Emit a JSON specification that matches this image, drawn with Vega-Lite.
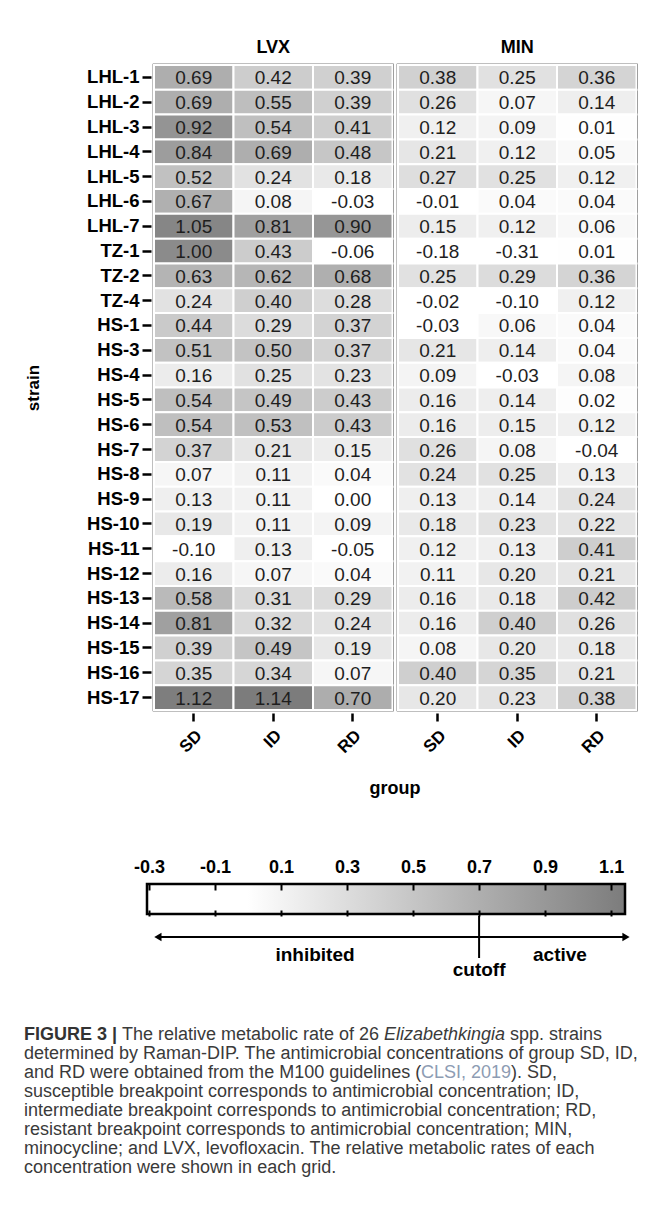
{
  "$schema": "https://vega.github.io/schema/vega-lite/v6.json",
  "padding": {"left": 24, "top": 39, "right": 5, "bottom": 5},
  "background": "white",
  "datasets": {
    "cells": [
      {"strain":"LHL-1","drug":"LVX","group":"SD","value":0.69},{"strain":"LHL-1","drug":"LVX","group":"ID","value":0.42},{"strain":"LHL-1","drug":"LVX","group":"RD","value":0.39},
      {"strain":"LHL-1","drug":"MIN","group":"SD","value":0.38},{"strain":"LHL-1","drug":"MIN","group":"ID","value":0.25},{"strain":"LHL-1","drug":"MIN","group":"RD","value":0.36},
      {"strain":"LHL-2","drug":"LVX","group":"SD","value":0.69},{"strain":"LHL-2","drug":"LVX","group":"ID","value":0.55},{"strain":"LHL-2","drug":"LVX","group":"RD","value":0.39},
      {"strain":"LHL-2","drug":"MIN","group":"SD","value":0.26},{"strain":"LHL-2","drug":"MIN","group":"ID","value":0.07},{"strain":"LHL-2","drug":"MIN","group":"RD","value":0.14},
      {"strain":"LHL-3","drug":"LVX","group":"SD","value":0.92},{"strain":"LHL-3","drug":"LVX","group":"ID","value":0.54},{"strain":"LHL-3","drug":"LVX","group":"RD","value":0.41},
      {"strain":"LHL-3","drug":"MIN","group":"SD","value":0.12},{"strain":"LHL-3","drug":"MIN","group":"ID","value":0.09},{"strain":"LHL-3","drug":"MIN","group":"RD","value":0.01},
      {"strain":"LHL-4","drug":"LVX","group":"SD","value":0.84},{"strain":"LHL-4","drug":"LVX","group":"ID","value":0.69},{"strain":"LHL-4","drug":"LVX","group":"RD","value":0.48},
      {"strain":"LHL-4","drug":"MIN","group":"SD","value":0.21},{"strain":"LHL-4","drug":"MIN","group":"ID","value":0.12},{"strain":"LHL-4","drug":"MIN","group":"RD","value":0.05},
      {"strain":"LHL-5","drug":"LVX","group":"SD","value":0.52},{"strain":"LHL-5","drug":"LVX","group":"ID","value":0.24},{"strain":"LHL-5","drug":"LVX","group":"RD","value":0.18},
      {"strain":"LHL-5","drug":"MIN","group":"SD","value":0.27},{"strain":"LHL-5","drug":"MIN","group":"ID","value":0.25},{"strain":"LHL-5","drug":"MIN","group":"RD","value":0.12},
      {"strain":"LHL-6","drug":"LVX","group":"SD","value":0.67},{"strain":"LHL-6","drug":"LVX","group":"ID","value":0.08},{"strain":"LHL-6","drug":"LVX","group":"RD","value":-0.03},
      {"strain":"LHL-6","drug":"MIN","group":"SD","value":-0.01},{"strain":"LHL-6","drug":"MIN","group":"ID","value":0.04},{"strain":"LHL-6","drug":"MIN","group":"RD","value":0.04},
      {"strain":"LHL-7","drug":"LVX","group":"SD","value":1.05},{"strain":"LHL-7","drug":"LVX","group":"ID","value":0.81},{"strain":"LHL-7","drug":"LVX","group":"RD","value":0.90},
      {"strain":"LHL-7","drug":"MIN","group":"SD","value":0.15},{"strain":"LHL-7","drug":"MIN","group":"ID","value":0.12},{"strain":"LHL-7","drug":"MIN","group":"RD","value":0.06},
      {"strain":"TZ-1","drug":"LVX","group":"SD","value":1.00},{"strain":"TZ-1","drug":"LVX","group":"ID","value":0.43},{"strain":"TZ-1","drug":"LVX","group":"RD","value":-0.06},
      {"strain":"TZ-1","drug":"MIN","group":"SD","value":-0.18},{"strain":"TZ-1","drug":"MIN","group":"ID","value":-0.31},{"strain":"TZ-1","drug":"MIN","group":"RD","value":0.01},
      {"strain":"TZ-2","drug":"LVX","group":"SD","value":0.63},{"strain":"TZ-2","drug":"LVX","group":"ID","value":0.62},{"strain":"TZ-2","drug":"LVX","group":"RD","value":0.68},
      {"strain":"TZ-2","drug":"MIN","group":"SD","value":0.25},{"strain":"TZ-2","drug":"MIN","group":"ID","value":0.29},{"strain":"TZ-2","drug":"MIN","group":"RD","value":0.36},
      {"strain":"TZ-4","drug":"LVX","group":"SD","value":0.24},{"strain":"TZ-4","drug":"LVX","group":"ID","value":0.40},{"strain":"TZ-4","drug":"LVX","group":"RD","value":0.28},
      {"strain":"TZ-4","drug":"MIN","group":"SD","value":-0.02},{"strain":"TZ-4","drug":"MIN","group":"ID","value":-0.10},{"strain":"TZ-4","drug":"MIN","group":"RD","value":0.12},
      {"strain":"HS-1","drug":"LVX","group":"SD","value":0.44},{"strain":"HS-1","drug":"LVX","group":"ID","value":0.29},{"strain":"HS-1","drug":"LVX","group":"RD","value":0.37},
      {"strain":"HS-1","drug":"MIN","group":"SD","value":-0.03},{"strain":"HS-1","drug":"MIN","group":"ID","value":0.06},{"strain":"HS-1","drug":"MIN","group":"RD","value":0.04},
      {"strain":"HS-3","drug":"LVX","group":"SD","value":0.51},{"strain":"HS-3","drug":"LVX","group":"ID","value":0.50},{"strain":"HS-3","drug":"LVX","group":"RD","value":0.37},
      {"strain":"HS-3","drug":"MIN","group":"SD","value":0.21},{"strain":"HS-3","drug":"MIN","group":"ID","value":0.14},{"strain":"HS-3","drug":"MIN","group":"RD","value":0.04},
      {"strain":"HS-4","drug":"LVX","group":"SD","value":0.16},{"strain":"HS-4","drug":"LVX","group":"ID","value":0.25},{"strain":"HS-4","drug":"LVX","group":"RD","value":0.23},
      {"strain":"HS-4","drug":"MIN","group":"SD","value":0.09},{"strain":"HS-4","drug":"MIN","group":"ID","value":-0.03},{"strain":"HS-4","drug":"MIN","group":"RD","value":0.08},
      {"strain":"HS-5","drug":"LVX","group":"SD","value":0.54},{"strain":"HS-5","drug":"LVX","group":"ID","value":0.49},{"strain":"HS-5","drug":"LVX","group":"RD","value":0.43},
      {"strain":"HS-5","drug":"MIN","group":"SD","value":0.16},{"strain":"HS-5","drug":"MIN","group":"ID","value":0.14},{"strain":"HS-5","drug":"MIN","group":"RD","value":0.02},
      {"strain":"HS-6","drug":"LVX","group":"SD","value":0.54},{"strain":"HS-6","drug":"LVX","group":"ID","value":0.53},{"strain":"HS-6","drug":"LVX","group":"RD","value":0.43},
      {"strain":"HS-6","drug":"MIN","group":"SD","value":0.16},{"strain":"HS-6","drug":"MIN","group":"ID","value":0.15},{"strain":"HS-6","drug":"MIN","group":"RD","value":0.12},
      {"strain":"HS-7","drug":"LVX","group":"SD","value":0.37},{"strain":"HS-7","drug":"LVX","group":"ID","value":0.21},{"strain":"HS-7","drug":"LVX","group":"RD","value":0.15},
      {"strain":"HS-7","drug":"MIN","group":"SD","value":0.26},{"strain":"HS-7","drug":"MIN","group":"ID","value":0.08},{"strain":"HS-7","drug":"MIN","group":"RD","value":-0.04},
      {"strain":"HS-8","drug":"LVX","group":"SD","value":0.07},{"strain":"HS-8","drug":"LVX","group":"ID","value":0.11},{"strain":"HS-8","drug":"LVX","group":"RD","value":0.04},
      {"strain":"HS-8","drug":"MIN","group":"SD","value":0.24},{"strain":"HS-8","drug":"MIN","group":"ID","value":0.25},{"strain":"HS-8","drug":"MIN","group":"RD","value":0.13},
      {"strain":"HS-9","drug":"LVX","group":"SD","value":0.13},{"strain":"HS-9","drug":"LVX","group":"ID","value":0.11},{"strain":"HS-9","drug":"LVX","group":"RD","value":0.00},
      {"strain":"HS-9","drug":"MIN","group":"SD","value":0.13},{"strain":"HS-9","drug":"MIN","group":"ID","value":0.14},{"strain":"HS-9","drug":"MIN","group":"RD","value":0.24},
      {"strain":"HS-10","drug":"LVX","group":"SD","value":0.19},{"strain":"HS-10","drug":"LVX","group":"ID","value":0.11},{"strain":"HS-10","drug":"LVX","group":"RD","value":0.09},
      {"strain":"HS-10","drug":"MIN","group":"SD","value":0.18},{"strain":"HS-10","drug":"MIN","group":"ID","value":0.23},{"strain":"HS-10","drug":"MIN","group":"RD","value":0.22},
      {"strain":"HS-11","drug":"LVX","group":"SD","value":-0.10},{"strain":"HS-11","drug":"LVX","group":"ID","value":0.13},{"strain":"HS-11","drug":"LVX","group":"RD","value":-0.05},
      {"strain":"HS-11","drug":"MIN","group":"SD","value":0.12},{"strain":"HS-11","drug":"MIN","group":"ID","value":0.13},{"strain":"HS-11","drug":"MIN","group":"RD","value":0.41},
      {"strain":"HS-12","drug":"LVX","group":"SD","value":0.16},{"strain":"HS-12","drug":"LVX","group":"ID","value":0.07},{"strain":"HS-12","drug":"LVX","group":"RD","value":0.04},
      {"strain":"HS-12","drug":"MIN","group":"SD","value":0.11},{"strain":"HS-12","drug":"MIN","group":"ID","value":0.20},{"strain":"HS-12","drug":"MIN","group":"RD","value":0.21},
      {"strain":"HS-13","drug":"LVX","group":"SD","value":0.58},{"strain":"HS-13","drug":"LVX","group":"ID","value":0.31},{"strain":"HS-13","drug":"LVX","group":"RD","value":0.29},
      {"strain":"HS-13","drug":"MIN","group":"SD","value":0.16},{"strain":"HS-13","drug":"MIN","group":"ID","value":0.18},{"strain":"HS-13","drug":"MIN","group":"RD","value":0.42},
      {"strain":"HS-14","drug":"LVX","group":"SD","value":0.81},{"strain":"HS-14","drug":"LVX","group":"ID","value":0.32},{"strain":"HS-14","drug":"LVX","group":"RD","value":0.24},
      {"strain":"HS-14","drug":"MIN","group":"SD","value":0.16},{"strain":"HS-14","drug":"MIN","group":"ID","value":0.40},{"strain":"HS-14","drug":"MIN","group":"RD","value":0.26},
      {"strain":"HS-15","drug":"LVX","group":"SD","value":0.39},{"strain":"HS-15","drug":"LVX","group":"ID","value":0.49},{"strain":"HS-15","drug":"LVX","group":"RD","value":0.19},
      {"strain":"HS-15","drug":"MIN","group":"SD","value":0.08},{"strain":"HS-15","drug":"MIN","group":"ID","value":0.20},{"strain":"HS-15","drug":"MIN","group":"RD","value":0.18},
      {"strain":"HS-16","drug":"LVX","group":"SD","value":0.35},{"strain":"HS-16","drug":"LVX","group":"ID","value":0.34},{"strain":"HS-16","drug":"LVX","group":"RD","value":0.07},
      {"strain":"HS-16","drug":"MIN","group":"SD","value":0.40},{"strain":"HS-16","drug":"MIN","group":"ID","value":0.35},{"strain":"HS-16","drug":"MIN","group":"RD","value":0.21},
      {"strain":"HS-17","drug":"LVX","group":"SD","value":1.12},{"strain":"HS-17","drug":"LVX","group":"ID","value":1.14},{"strain":"HS-17","drug":"LVX","group":"RD","value":0.70},
      {"strain":"HS-17","drug":"MIN","group":"SD","value":0.20},{"strain":"HS-17","drug":"MIN","group":"ID","value":0.23},{"strain":"HS-17","drug":"MIN","group":"RD","value":0.38}
    ],
    "caption": [
      {"line":1,"seg":"lead","text":"FIGURE 3 |"},
      {"line":1,"seg":"afterLead","text":"The relative metabolic rate of 26"},
      {"line":1,"seg":"genus","text":"Elizabethkingia"},
      {"line":1,"seg":"afterGenus","text":"spp. strains"},
      {"line":2,"seg":"plain","text":"determined by Raman-DIP. The antimicrobial concentrations of group SD, ID,"},
      {"line":3,"seg":"plain","text":"and RD were obtained from the M100 guidelines ("},
      {"line":3,"seg":"cite","text":"CLSI, 2019"},
      {"line":3,"seg":"afterCite","text":"). SD,"},
      {"line":4,"seg":"plain","text":"susceptible breakpoint corresponds to antimicrobial concentration; ID,"},
      {"line":5,"seg":"plain","text":"intermediate breakpoint corresponds to antimicrobial concentration; RD,"},
      {"line":6,"seg":"plain","text":"resistant breakpoint corresponds to antimicrobial concentration; MIN,"},
      {"line":7,"seg":"plain","text":"minocycline; and LVX, levofloxacin. The relative metabolic rates of each"},
      {"line":8,"seg":"plain","text":"concentration were shown in each grid."}
    ]
  },
  "vconcat": [
    {
      "vconcat": [
        {
          "data": {"name": "cells"},
          "facet": {
            "column": {
              "field": "drug", "type": "nominal", "sort": ["LVX", "MIN"], "title": "group",
              "header": {"labelOrient": "top", "labelFont": "Liberation Sans", "labelFontSize": 18, "labelFontWeight": "bold", "labelColor": "black", "labelPadding": 5,
                "titleOrient": "bottom", "titleFont": "Liberation Sans", "titleFontSize": 18, "titleFontWeight": "bold", "titleColor": "black", "titlePadding": 14}
            }
          },
          "spacing": 0,
          "spec": {
            "width": 238.5,
            "height": 645,
            "encoding": {
              "x": {
                "field": "group", "type": "nominal", "sort": ["SD", "ID", "RD"],
                "scale": {"paddingInner": 0, "paddingOuter": 0},
                "axis": {"title": null, "labelAngle": -45, "labelFont": "Liberation Sans", "labelFontSize": 17, "labelFontWeight": "bold", "labelColor": "black", "tickSize": 8, "tickWidth": 2.5, "tickColor": "black", "domain": false, "labelPadding": 6}
              },
              "y": {
                "field": "strain", "type": "nominal",
                "sort": ["LHL-1","LHL-2","LHL-3","LHL-4","LHL-5","LHL-6","LHL-7","TZ-1","TZ-2","TZ-4","HS-1","HS-3","HS-4","HS-5","HS-6","HS-7","HS-8","HS-9","HS-10","HS-11","HS-12","HS-13","HS-14","HS-15","HS-16","HS-17"],
                "scale": {"paddingInner": 0, "paddingOuter": 0},
                "axis": {"title": "strain", "labelFont": "Liberation Sans", "labelFontSize": 18.5, "labelFontWeight": "bold", "labelColor": "black", "tickSize": 9, "tickWidth": 2.5, "tickColor": "black", "domain": false, "labelPadding": 3, "titleFont": "Liberation Sans", "titleFontSize": 17, "titleFontWeight": "bold", "titleColor": "black", "titlePadding": 44}
              }
            },
            "layer": [
              {
                "mark": {"type": "rect", "stroke": "white", "strokeWidth": 2},
                "encoding": {
                  "color": {"field": "value", "type": "quantitative", "scale": {"domain": [0, 1.15], "range": ["#ffffff", "#7b7b7b"], "clamp": true}, "legend": null}
                }
              },
              {
                "mark": {"type": "text", "font": "Liberation Sans", "fontSize": 19, "color": "#1e1e1e", "baseline": "middle", "dy": 1},
                "encoding": {"text": {"field": "value", "type": "quantitative", "format": ".2f"}}
              }
            ]
          }
        },
        {
          "vconcat": [
            {
              "width": 471,
              "height": 30,
              "view": {"stroke": null},
              "data": {"values": [{"low": -0.306, "high": 1.142}]},
              "mark": {"type": "rect", "stroke": "black", "strokeWidth": 2.5,
                "fill": {"gradient": "linear", "x1": 0, "y1": 0, "x2": 1, "y2": 0, "stops": [{"offset": 0, "color": "#ffffff"}, {"offset": 0.211, "color": "#ffffff"}, {"offset": 1, "color": "#7c7c7c"}]}},
              "encoding": {
                "x": {"field": "low", "type": "quantitative", "scale": {"domain": [-0.306, 1.142], "range": [-7, 471], "nice": false, "zero": false},
                  "axis": {"orient": "top", "zindex": 1, "values": [-0.3, -0.1, 0.1, 0.3, 0.5, 0.7, 0.9, 1.1], "format": ".1f", "labelFont": "Liberation Sans", "labelFontSize": 18, "labelFontWeight": "bold", "labelColor": "black", "tickSize": -6, "tickWidth": 2, "tickColor": "black", "domain": false, "grid": false, "title": null, "labelPadding": 14}},
                "x2": {"field": "high"}
              }
            },
            {
              "width": 471,
              "height": 42,
              "view": {"stroke": null},
              "layer": [
                {
                  "data": {"values": [{"from": -0.273, "to": 1.145}]},
                  "mark": {"type": "rule", "color": "black", "strokeWidth": 2},
                  "encoding": {
                    "x": {"field": "from", "type": "quantitative", "scale": {"domain": [-0.306, 1.142], "range": [-7, 471], "nice": false, "zero": false},
                      "axis": {"orient": "top", "zindex": 1, "values": [-0.3, -0.1, 0.1, 0.3, 0.5, 0.7, 0.9, 1.1], "labels": false, "tickSize": 6, "tickWidth": 2, "tickColor": "black", "domain": false, "grid": false, "title": null}},
                    "x2": {"field": "to"},
                    "y": {"datum": "arrow", "type": "nominal", "scale": {"type": "point", "domain": ["bar", "arrow", "label"], "padding": 0}, "axis": null}
                  }
                },
                {
                  "data": {"values": [{"tip": -0.273, "end": "left"}, {"tip": 1.145, "end": "right"}]},
                  "mark": {"type": "point", "filled": true, "color": "black", "opacity": 1, "size": 70},
                  "encoding": {
                    "x": {"field": "tip", "type": "quantitative"},
                    "y": {"datum": "arrow", "type": "nominal"},
                    "shape": {"field": "end", "type": "nominal", "scale": {"domain": ["left", "right"], "range": ["triangle-left", "triangle-right"]}, "legend": null}
                  }
                },
                {
                  "data": {"values": [{"cut": 0.7}]},
                  "mark": {"type": "rule", "color": "black", "strokeWidth": 2},
                  "encoding": {
                    "x": {"field": "cut", "type": "quantitative"},
                    "y": {"datum": "bar", "type": "nominal"},
                    "y2": {"datum": "label"}
                  }
                },
                {
                  "data": {"values": [{"pos": 0.203, "word": "inhibited"}, {"pos": 0.945, "word": "active"}]},
                  "mark": {"type": "text", "font": "Liberation Sans", "fontSize": 19, "fontWeight": "bold", "color": "black", "dy": -3},
                  "encoding": {
                    "x": {"field": "pos", "type": "quantitative"},
                    "y": {"datum": "label", "type": "nominal"},
                    "text": {"field": "word"}
                  }
                },
                {
                  "data": {"values": [{"pos": 0.7, "word": "cutoff"}]},
                  "mark": {"type": "text", "font": "Liberation Sans", "fontSize": 19, "fontWeight": "bold", "color": "black", "dy": 12},
                  "encoding": {
                    "x": {"field": "pos", "type": "quantitative"},
                    "y": {"datum": "label", "type": "nominal"},
                    "text": {"field": "word"}
                  }
                }
              ]
            }
          ],
          "spacing": -7.25
        }
      ],
      "spacing": 60
    },
    {
      "width": 477,
      "height": 153,
      "view": {"stroke": null},
      "data": {"name": "caption"},
      "encoding": {
        "x": {"datum": 0, "type": "quantitative", "scale": {"domain": [0, 1]}, "axis": null},
        "y": {"field": "line", "type": "ordinal", "scale": {"paddingInner": 0, "paddingOuter": 0}, "axis": null},
        "text": {"field": "text"}
      },
      "layer": [
        {"transform": [{"filter": "datum.seg === 'plain'"}], "mark": {"type": "text", "align": "left", "font": "Liberation Sans", "fontSize": 18, "color": "#3a3a3a", "dx": -130}},
        {"transform": [{"filter": "datum.seg === 'lead'"}], "mark": {"type": "text", "align": "left", "font": "Liberation Sans", "fontWeight": "bold", "fontSize": 18, "color": "#333333", "dx": -130}},
        {"transform": [{"filter": "datum.seg === 'afterLead'"}], "mark": {"type": "text", "align": "left", "font": "Liberation Sans", "fontSize": 18, "color": "#3a3a3a", "dx": -32}},
        {"transform": [{"filter": "datum.seg === 'genus'"}], "mark": {"type": "text", "align": "left", "font": "Liberation Sans", "fontStyle": "italic", "fontSize": 18, "color": "#3a3a3a", "dx": 230}},
        {"transform": [{"filter": "datum.seg === 'afterGenus'"}], "mark": {"type": "text", "align": "left", "font": "Liberation Sans", "fontSize": 18, "color": "#3a3a3a", "dx": 356}},
        {"transform": [{"filter": "datum.seg === 'cite'"}], "mark": {"type": "text", "align": "left", "font": "Liberation Sans", "fontSize": 18, "color": "#8d9cb3", "dx": 267}},
        {"transform": [{"filter": "datum.seg === 'afterCite'"}], "mark": {"type": "text", "align": "left", "font": "Liberation Sans", "fontSize": 18, "color": "#3a3a3a", "dx": 357}}
      ]
    }
  ],
  "spacing": 45,
  "config": {
    "view": {"stroke": "black", "strokeWidth": 2.5},
    "font": "Liberation Sans",
    "locale": {"number": {"decimal": ".", "thousands": ",", "grouping": [3], "currency": ["$", ""], "minus": "-"}},
    "axis": {"labelColor": "black", "tickColor": "black", "titleColor": "black"}
  }
}
